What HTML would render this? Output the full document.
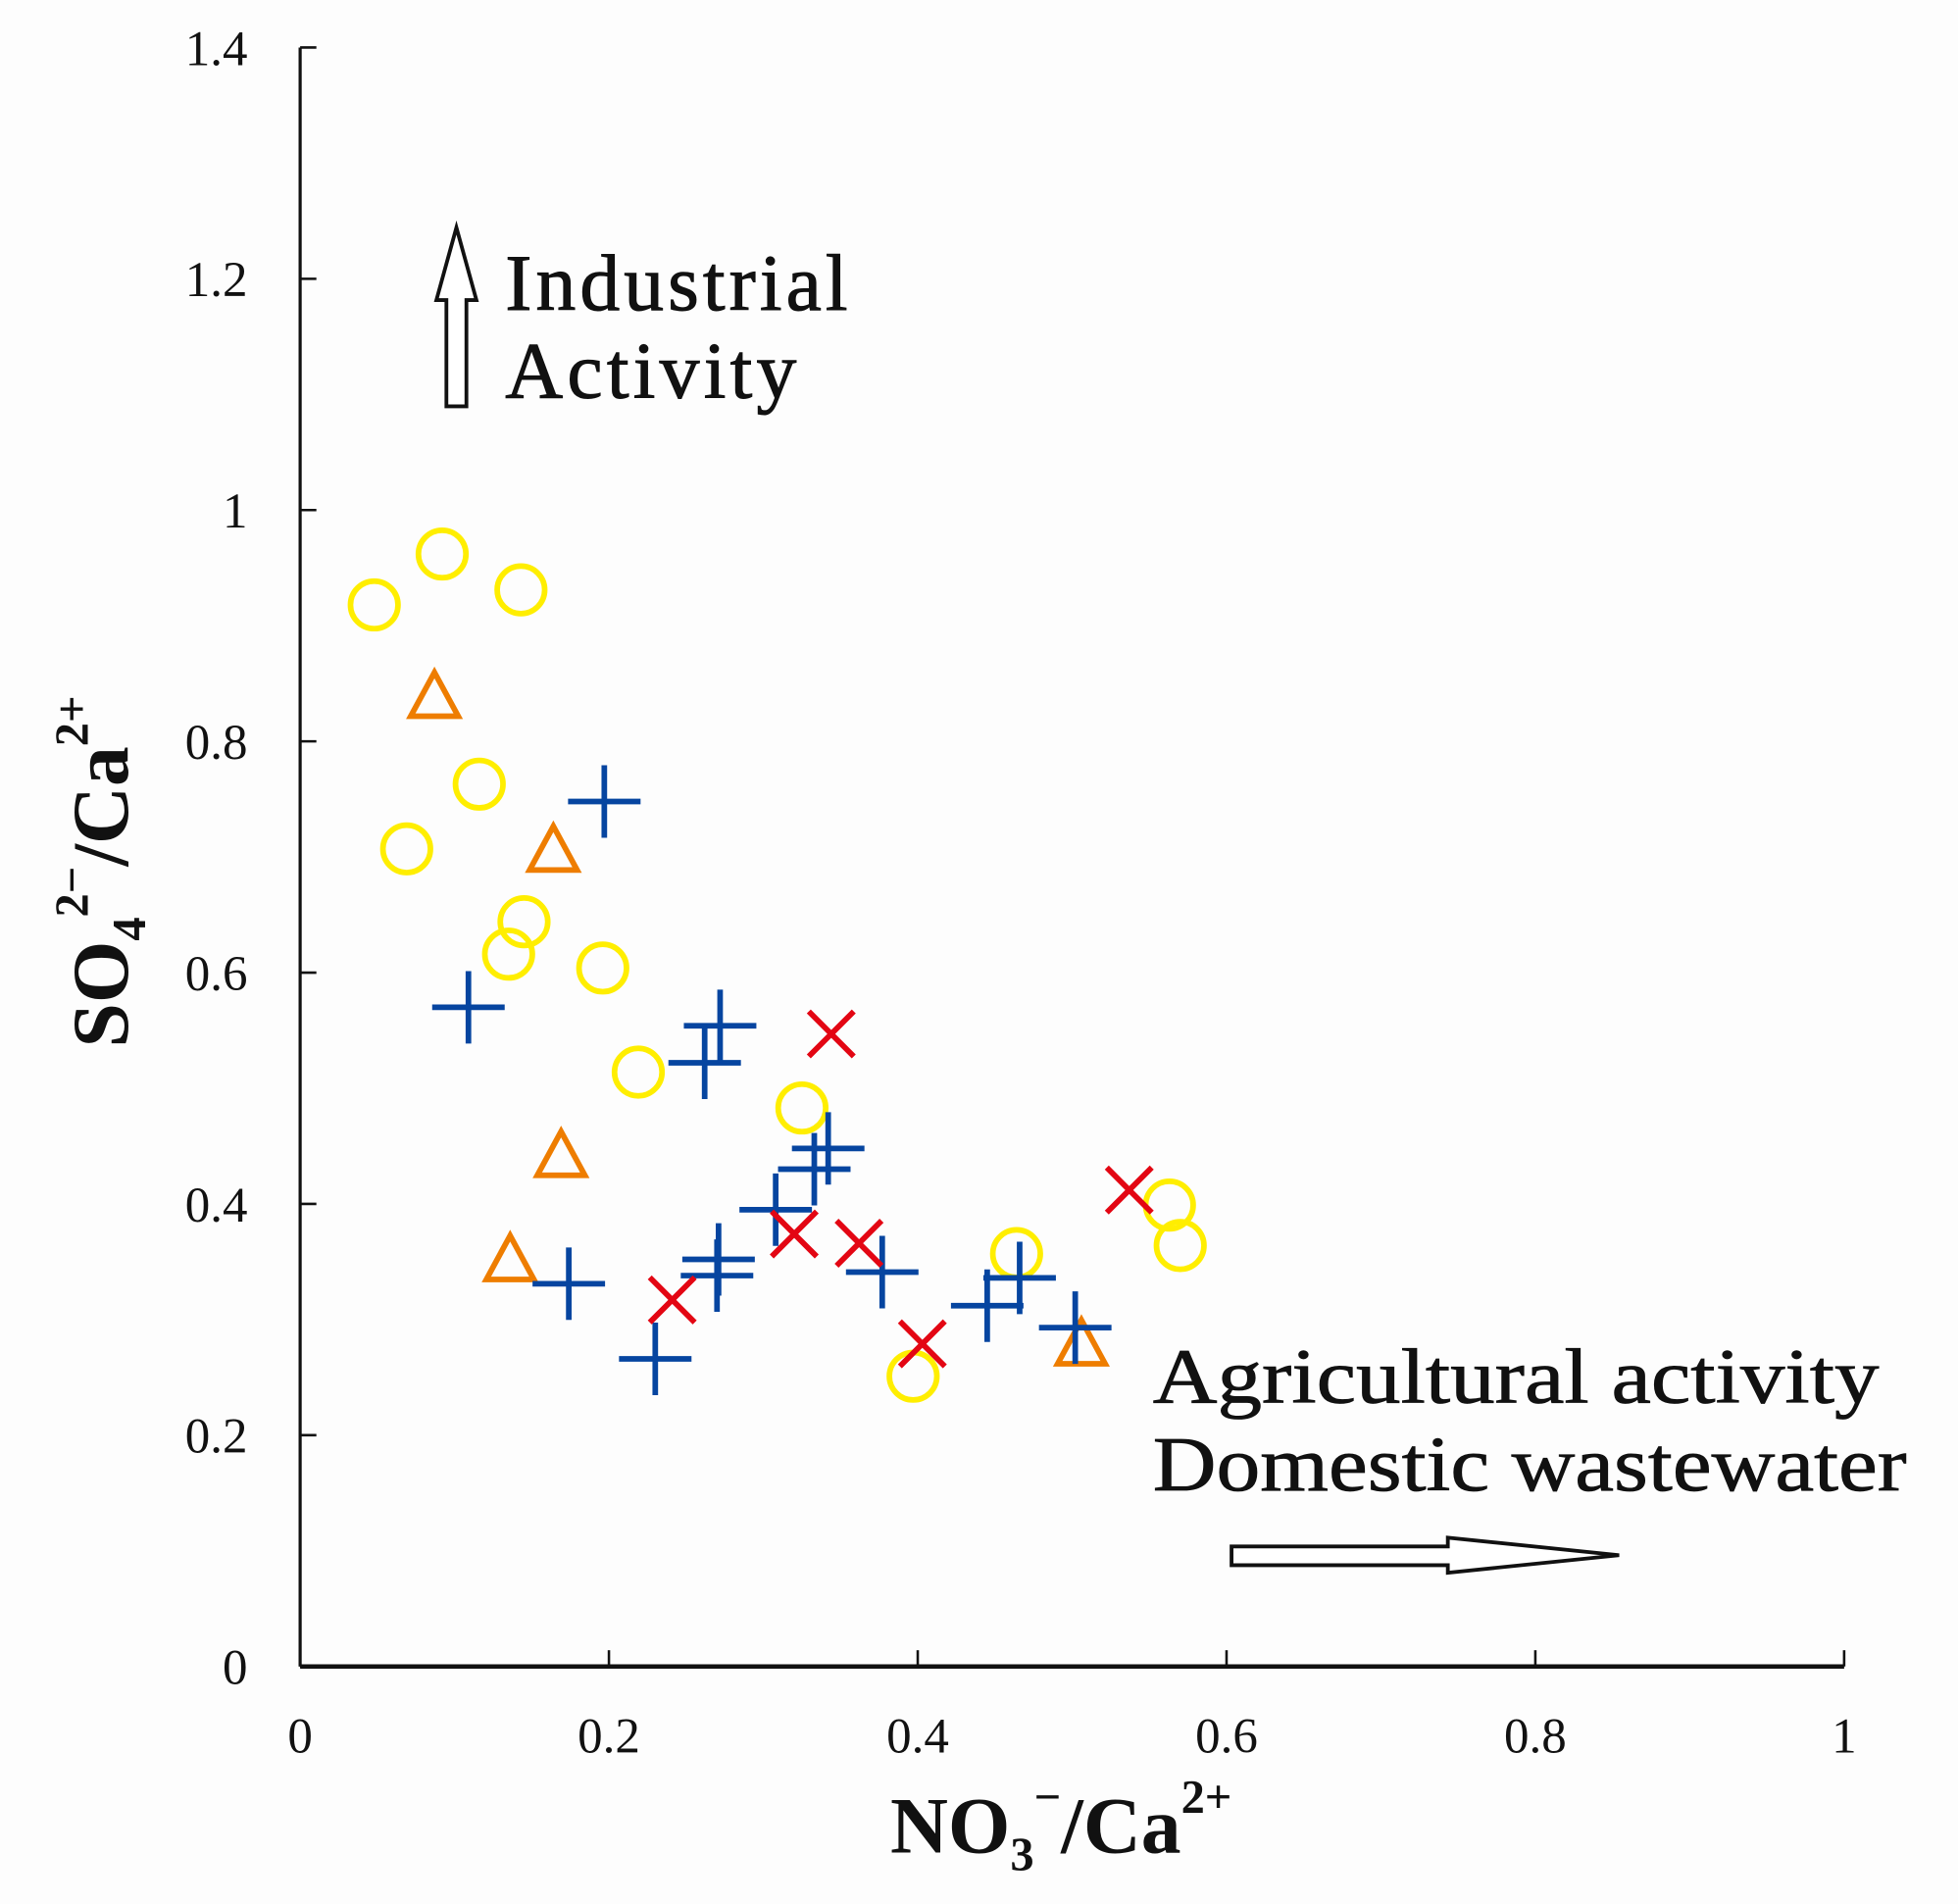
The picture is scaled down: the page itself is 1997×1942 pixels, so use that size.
<!DOCTYPE html>
<html><head><meta charset="utf-8"><style>
html,body{margin:0;padding:0;background:#fff;}
svg{display:block;}
text{font-family:"Liberation Serif",serif;fill:#111;}
</style></head><body>
<svg id="chart" width="1997" height="1942" viewBox="0 0 1566 1523" xmlns="http://www.w3.org/2000/svg">
<rect x="0" y="0" width="1566" height="1523" fill="#fdfdfd"/>
<g id="axes"></g>
<g id="marks"></g>
<g>
<path d="M357,325 L373,325 L373,240 L381,240 L365,182 L349,240 L357,240 Z" fill="#fff" stroke="#111" stroke-width="3"/>
<text x="404" y="248" font-size="64" stroke="#111" stroke-width="0.8" textLength="274" lengthAdjust="spacing">Industrial</text>
<text x="404" y="318" font-size="64" stroke="#111" stroke-width="0.8" textLength="233" lengthAdjust="spacing">Activity</text>
</g>
<g>
<text x="922" y="1122" font-size="62" stroke="#111" stroke-width="0.6" textLength="581" lengthAdjust="spacingAndGlyphs">Agricultural activity</text>
<text x="922" y="1192" font-size="62" stroke="#111" stroke-width="0.6" textLength="603" lengthAdjust="spacingAndGlyphs">Domestic wastewater</text>
<path d="M985,1237 L1158,1237 L1158,1230 L1295,1244 L1158,1258 L1158,1252 L985,1252 Z" fill="#fff" stroke="#111" stroke-width="3"/>
</g>
<text x="712" y="1482" font-size="64" font-weight="bold">NO<tspan font-size="38" dy="14">3</tspan><tspan font-size="38" dy="-46">−</tspan><tspan dy="32">/Ca</tspan><tspan font-size="38" dy="-32">2+</tspan></text>
<text transform="translate(102,838) rotate(-90)" x="0" y="0" font-size="64" font-weight="bold">SO<tspan font-size="38" dy="14">4</tspan><tspan font-size="38" dy="-46">2−</tspan><tspan dy="32">/Ca</tspan><tspan font-size="38" dy="-32">2+</tspan></text>
</svg>
<script>
const xTicks = [0, 0.2, 0.4, 0.6, 0.8, 1];
const xTickLabels = ["0", "0.2", "0.4", "0.6", "0.8", "1"];
const yTicks = [0, 0.2, 0.4, 0.6, 0.8, 1, 1.2, 1.4];
const yTickLabels = ["0", "0.2", "0.4", "0.6", "0.8", "1", "1.2", "1.4"];
const circleX = [0.048, 0.092, 0.143, 0.116, 0.069, 0.145, 0.135, 0.196, 0.219, 0.325, 0.464, 0.563, 0.570, 0.397];
const circleY = [0.918, 0.962, 0.931, 0.763, 0.707, 0.644, 0.616, 0.604, 0.514, 0.483, 0.357, 0.399, 0.364, 0.251];
const triangleX = [0.087, 0.164, 0.169, 0.136, 0.506];
const triangleY = [0.839, 0.706, 0.442, 0.352, 0.279];
const plusX = [0.197, 0.109, 0.262, 0.272, 0.174, 0.230, 0.270, 0.271, 0.308, 0.333, 0.342, 0.377, 0.445, 0.466, 0.502];
const plusY = [0.748, 0.570, 0.522, 0.554, 0.331, 0.266, 0.338, 0.352, 0.395, 0.430, 0.448, 0.341, 0.312, 0.336, 0.293];
const crossX = [0.344, 0.241, 0.320, 0.362, 0.403, 0.537];
const crossY = [0.547, 0.317, 0.374, 0.366, 0.279, 0.412];

const NS = "http://www.w3.org/2000/svg";
const X0 = 240, X1 = 1475, Y0 = 1333, Y1 = 38;
function sx(v){ return X0 + v * (X1 - X0); }
function sy(v){ return Y0 - v / 1.4 * (Y0 - Y1); }
function mk(tag, attrs, parent){
  const el = document.createElementNS(NS, tag);
  for (const k in attrs) el.setAttribute(k, attrs[k]);
  parent.appendChild(el);
  return el;
}
const axes = document.getElementById('axes');
const marks = document.getElementById('marks');
let e;
e = mk('line', {x1:X0, y1:Y0, x2:X1, y2:Y0, stroke:'#111', 'stroke-width':3.5}, axes);


e = mk('line', {x1:X0, y1:Y0, x2:X0, y2:Y1, stroke:'#111', 'stroke-width':2.5}, axes);


xTicks.forEach((v, i) => {
  const t = mk('line', {x1:sx(v), y1:Y0, x2:sx(v), y2:Y0 - 13, stroke:'#111', 'stroke-width':2}, axes);
  
  
  const l = mk('text', {x:sx(v), y:1402, 'font-size':40, 'text-anchor':'middle'}, axes);
  l.textContent = xTickLabels[i];
  
  
});
yTicks.forEach((v, i) => {
  const t = mk('line', {x1:X0, y1:sy(v), x2:X0 + 13, y2:sy(v), stroke:'#111', 'stroke-width':2}, axes);
  
  
  const l = mk('text', {x:198, y:sy(v) + 14, 'font-size':40, 'text-anchor':'end'}, axes);
  l.textContent = yTickLabels[i];
  
  
});
circleX.forEach((v, i) => {
  const c = mk('circle', {cx:sx(v), cy:sy(circleY[i]), r:19, fill:'none', stroke:'#ffee00', 'stroke-width':4.5}, marks);
  
  
});
triangleX.forEach((v, i) => {
  const x = sx(v), y = sy(triangleY[i]);
  const p = mk('polygon', {points:`${x},${y-19} ${x-19},${y+16} ${x+19},${y+16}`, fill:'none', stroke:'#ee7d00', 'stroke-width':4.5}, marks);
  
  
});
plusX.forEach((v, i) => {
  const x = sx(v), y = sy(plusY[i]);
  const p = mk('path', {d:`M${x-29},${y}H${x+29}M${x},${y-29}V${y+29}`, stroke:'#0645a0', 'stroke-width':4.5, fill:'none'}, marks);
  
  
});
crossX.forEach((v, i) => {
  const x = sx(v), y = sy(crossY[i]);
  const p = mk('path', {d:`M${x-18},${y-18}L${x+18},${y+18}M${x-18},${y+18}L${x+18},${y-18}`, stroke:'#e30613', 'stroke-width':4.5, fill:'none'}, marks);
  
  
});
</script>
</body></html>
